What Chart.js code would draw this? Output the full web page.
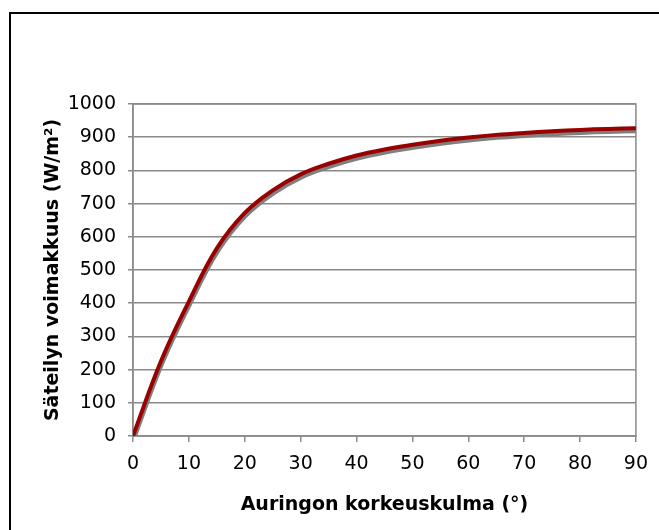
<!DOCTYPE html>
<html>
<head>
<meta charset="utf-8">
<script src="https://cdn.jsdelivr.net/npm/chart.js@4.4.1/dist/chart.umd.min.js"></script>
<style>
  html, body { margin: 0; padding: 0; background: #fff; }
  #wrap { position: relative; width: 659px; height: 530px; }
</style>
</head>
<body>
<div id="wrap"><canvas id="c" width="659" height="530"></canvas></div>
<script>
// Data
const angles = [0, 5, 10, 15, 20, 25, 30, 35, 40, 45, 50, 55, 60, 65, 70, 75, 80, 85, 90];
const irradiance = [0, 225, 405, 565, 672, 740, 788, 820, 845, 863, 877, 889, 899, 907, 913, 918, 922, 925, 927];
const xTickValues = [0, 10, 20, 30, 40, 50, 60, 70, 80, 90];
const yTickValues = [0, 100, 200, 300, 400, 500, 600, 700, 800, 900, 1000];
const xTitle = 'Auringon korkeuskulma (°)';
const yTitle = 'Säteilyn voimakkuus (W/m²)';

const points = angles.map((a, i) => ({ x: a, y: irradiance[i] }));

const frame = {
  id: 'frame',
  beforeDraw(chart) {
    const ctx = chart.ctx;
    ctx.save();
    ctx.fillStyle = '#ffffff';
    ctx.fillRect(0, 0, chart.width, chart.height);
    ctx.strokeStyle = '#000000';
    ctx.lineWidth = 2;
    ctx.beginPath();
    ctx.moveTo(10, chart.height + 2);
    ctx.lineTo(10, 13);
    ctx.lineTo(chart.width + 2, 13);
    ctx.stroke();
    ctx.restore();
  },
  beforeDatasetsDraw(chart) {
    const a = chart.chartArea;
    const ctx = chart.ctx;
    ctx.save();
    ctx.strokeStyle = '#8a8a8a';
    ctx.lineWidth = 1.5;
    ctx.strokeRect(a.left, a.top, a.right - a.left, a.bottom - a.top);
    ctx.restore();
  },
  beforeDatasetDraw(chart) {
    const ctx = chart.ctx;
    ctx.save();
    ctx.shadowColor = 'rgba(128,128,128,1)';
    ctx.shadowOffsetX = 1;
    ctx.shadowOffsetY = 3;
    ctx.shadowBlur = 0;
  },
  afterDatasetDraw(chart) {
    chart.ctx.restore();
  }
};

new Chart(document.getElementById('c'), {
  type: 'line',
  data: {
    datasets: [{
      label: 'Säteilyn voimakkuus',
      data: points,
      borderColor: '#990000',
      borderWidth: 4,
      pointRadius: 0,
      fill: false,
      tension: 0.4
    }]
  },
  options: {
    responsive: false,
    animation: false,
    devicePixelRatio: 1,
    layout: { padding: { left: 0, right: 20, top: 104, bottom: 0 } },
    plugins: { legend: { display: false }, tooltip: { enabled: false } },
    scales: {
      x: {
        type: 'linear',
        min: 0, max: 90,
        afterBuildTicks(s) { s.ticks = xTickValues.map(v => ({ value: v })); },
        afterFit(s) { s.height = 94; },
        ticks: { font: { family: 'DejaVu Sans', size: 19 }, color: '#000', padding: 11, maxRotation: 0,
          callback: v => String(v) },
        grid: { drawOnChartArea: false, drawTicks: true, tickLength: 6, color: '#8a8a8a', lineWidth: 1.5 },
        border: { color: '#8a8a8a', width: 1.5 },
        title: { display: true, text: xTitle, color: '#000',
          font: { family: 'DejaVu Sans', size: 19, weight: 'bold' }, padding: { top: 0, bottom: 14 } }
      },
      y: {
        min: 0, max: 1000,
        afterBuildTicks(s) { s.ticks = yTickValues.map(v => ({ value: v })); },
        afterFit(s) { s.width = 133; },
        ticks: { font: { family: 'DejaVu Sans', size: 19 }, color: '#000', padding: 12,
          callback: v => String(v) },
        grid: { color: '#8a8a8a', lineWidth: 1.5, tickLength: 5 },
        border: { color: '#8a8a8a', width: 1.5 },
        title: { display: true, text: yTitle, color: '#000',
          font: { family: 'DejaVu Sans', size: 19, weight: 'bold' }, padding: { top: 42, bottom: 0 } }
      }
    }
  },
  plugins: [frame]
});
</script>
</body>
</html>
